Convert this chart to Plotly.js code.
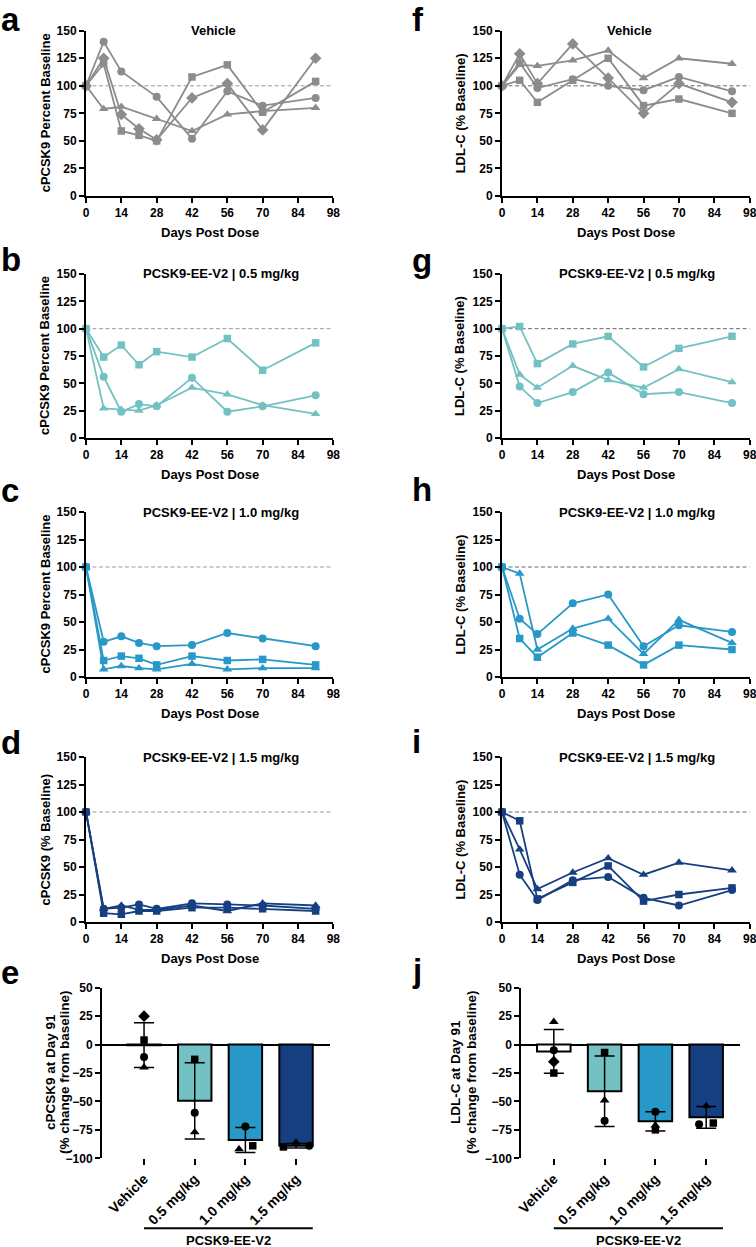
<!DOCTYPE html>
<html>
<head>
<meta charset="utf-8">
<script src="https://cdn.plot.ly/plotly-3.0.1.min.js"></script>
<style>
  html, body { margin: 0; padding: 0; background: #fff; }
  #fig { width: 756px; height: 1247px; }
</style>
</head>
<body>
<div id="fig"></div>
<script>
/* ── Data ── */
var DAYS_PCSK9 = [0, 7, 14, 21, 28, 42, 56, 70, 91];
var DAYS_LDL   = [0, 7, 14, 28, 42, 56, 70, 91];
var DAY_TICKS  = [0, 14, 28, 42, 56, 70, 84, 98];
var PCT_TICKS  = [0, 25, 50, 75, 100, 125, 150];
var BASELINE   = 100;

/* cPCSK9, % of baseline */
var PCSK9_VEH_CIRCLE   = [100, 140, 113, null, 90, 52, 95, 82, 89];
var PCSK9_VEH_SQUARE   = [100, 120, 59, 55, 50, 108, 119, 76, 104];
var PCSK9_VEH_DIAMOND  = [100, 125, 74, 61, 51, 89, 102, 60, 125];
var PCSK9_VEH_TRIANGLE = [100, 79, 81, null, 70, 59, 74, 77, 80];

var PCSK9_05_SQUARE   = [100, 74, 85, 67, 79, 74, 91, 62, 87];
var PCSK9_05_CIRCLE   = [100, 56, 24, 31, 29, 55, 24, 29, 39];
var PCSK9_05_TRIANGLE = [100, 27, 26, 25, 30, 46, 40, 30, 22];

var PCSK9_10_CIRCLE   = [100, 32, 37, 31, 28, 29, 40, 35, 28];
var PCSK9_10_SQUARE   = [100, 15, 19, 17, 11, 19, 15, 16, 11];
var PCSK9_10_TRIANGLE = [100, 7, 10, 8, 7, 12, 7, 8, 8];

var PCSK9_15_CIRCLE   = [100, 12, 13, 16, 12, 17, 16, 15, 12];
var PCSK9_15_TRIANGLE = [100, 12, 15, 11, 11, 15, 10, 17, 15];
var PCSK9_15_SQUARE   = [100, 8, 7, 10, 10, 13, 13, 12, 10];

/* LDL-C, % of baseline */
var LDL_VEH_TRIANGLE = [100, 119, 118, 123, 132, 107, 125, 120];
var LDL_VEH_DIAMOND  = [100, 129, 102, 138, 107, 75, 102, 85];
var LDL_VEH_CIRCLE   = [100, 121, 98, 106, 100, 96, 108, 95];
var LDL_VEH_SQUARE   = [100, 105, 85, 105, 125, 82, 88, 75];

var LDL_05_SQUARE   = [100, 102, 68, 86, 93, 65, 82, 93];
var LDL_05_TRIANGLE = [100, 58, 46, 66, 53, 46, 63, 51];
var LDL_05_CIRCLE   = [100, 47, 32, 42, 60, 40, 42, 32];

var LDL_10_CIRCLE   = [100, 53, 39, 67, 75, 28, 47, 41];
var LDL_10_TRIANGLE = [100, 94, 25, 44, 53, 21, 52, 31];
var LDL_10_SQUARE   = [100, 35, 18, 40, 29, 11, 29, 25];

var LDL_15_SQUARE   = [100, 92, 21, 36, 51, 19, 25, 31];
var LDL_15_TRIANGLE = [100, 66, 30, 45, 58, 43, 54, 47];
var LDL_15_CIRCLE   = [100, 43, 20, 38, 41, 22, 15, 29];

/* Day 91, % change from baseline */
var GROUPS       = ['Vehicle', '0.5 mg/kg', '1.0 mg/kg', '1.5 mg/kg'];
var CHANGE_TICKS = [-100, -75, -50, -25, 0, 25, 50];

var PCSK9_D91_MEAN     = [-0.5, -49.5, -84, -89];
var PCSK9_D91_SD       = [19.6, 33.5, 11, 2];
var PCSK9_D91_CIRCLE   = [-11, -60, -72, -89];
var PCSK9_D91_SQUARE   = [4, -13, -89, -90];
var PCSK9_D91_TRIANGLE = [-20, -77, -92, -86];
var PCSK9_D91_DIAMOND  = [25, null, null, null];

var LDL_D91_MEAN     = [-6, -41, -67.5, -64];
var LDL_D91_SD       = [19.2, 31, 8.5, 9.5];
var LDL_D91_CIRCLE   = [-5, -67, -59, -70];
var LDL_D91_SQUARE   = [-25, -7, -75, -69];
var LDL_D91_TRIANGLE = [20, -49, -71, -54];
var LDL_D91_DIAMOND  = [-15, null, null, null];

(function () {
  'use strict';

  /* ── Page geometry helpers (px -> paper) ── */
  var W = 756, H = 1247;
  function px(x) { return x / W; }
  function py(y) { return 1 - y / H; }

  var FONT = '"Liberation Sans", Arial, Helvetica, sans-serif';

  /* ── Colour palette ── */
  var C = {
    veh:   '#8C8C8C',
    low:   '#74C1C3',
    mid:   '#2898C8',
    high:  '#163F82',
    ink:   '#000000',
    dashA: '#9C9C9C',
    dashB: '#6A6A6A',
  };

  var SYM   = { circle: 'circle', square: 'square', triangle: 'triangle-up', diamond: 'diamond' };
  var MSIZE = { circle: 8, square: 7.5, triangle: 8.5, diamond: 9 };

  /* ── Panel frames ── */
  var COL = { L: [86, 333.3], R: [502, 749.7] };
  var ROW = [[30.7, 196], [274, 438], [512, 677], [757, 922]];
  var BAR_ROW = [987.7, 1158.3];

  var TIME = [
    { n: 1, letter: 'a', col: 'L', row: 0, base: 26,  title: 'Vehicle', tx: 50.5,
      ytitle: 'cPCSK9 Percent Baseline', days: DAYS_PCSK9, color: C.veh, dash: C.dashA,
      series: [['circle', PCSK9_VEH_CIRCLE], ['square', PCSK9_VEH_SQUARE],
               ['diamond', PCSK9_VEH_DIAMOND], ['triangle', PCSK9_VEH_TRIANGLE]] },
    { n: 2, letter: 'b', col: 'L', row: 1, base: 270, title: 'PCSK9-EE-V2 | 0.5 mg/kg', tx: 53.5,
      ytitle: 'cPCSK9 Percent Baseline', days: DAYS_PCSK9, color: C.low, dash: C.dashA,
      series: [['square', PCSK9_05_SQUARE], ['circle', PCSK9_05_CIRCLE], ['triangle', PCSK9_05_TRIANGLE]] },
    { n: 3, letter: 'c', col: 'L', row: 2, base: 501, title: 'PCSK9-EE-V2 | 1.0 mg/kg', tx: 53.5,
      ytitle: 'cPCSK9 Percent Baseline', days: DAYS_PCSK9, color: C.mid, dash: C.dashA,
      series: [['circle', PCSK9_10_CIRCLE], ['square', PCSK9_10_SQUARE], ['triangle', PCSK9_10_TRIANGLE]] },
    { n: 4, letter: 'd', col: 'L', row: 3, base: 753, title: 'PCSK9-EE-V2 | 1.5 mg/kg', tx: 53.5,
      ytitle: 'cPCSK9 (% Baseline)', days: DAYS_PCSK9, color: C.high, dash: C.dashA,
      series: [['circle', PCSK9_15_CIRCLE], ['triangle', PCSK9_15_TRIANGLE], ['square', PCSK9_15_SQUARE]] },
    { n: 6, letter: 'f', col: 'R', row: 0, base: 26,  title: 'Vehicle', tx: 50.5,
      ytitle: 'LDL-C (% Baseline)', days: DAYS_LDL, color: C.veh, dash: C.dashB,
      series: [['triangle', LDL_VEH_TRIANGLE], ['diamond', LDL_VEH_DIAMOND],
               ['circle', LDL_VEH_CIRCLE], ['square', LDL_VEH_SQUARE]] },
    { n: 7, letter: 'g', col: 'R', row: 1, base: 271, title: 'PCSK9-EE-V2 | 0.5 mg/kg', tx: 53.5,
      ytitle: 'LDL-C (% Baseline)', days: DAYS_LDL, color: C.low, dash: C.dashB,
      series: [['square', LDL_05_SQUARE], ['triangle', LDL_05_TRIANGLE], ['circle', LDL_05_CIRCLE]] },
    { n: 8, letter: 'h', col: 'R', row: 2, base: 500, title: 'PCSK9-EE-V2 | 1.0 mg/kg', tx: 53.5,
      ytitle: 'LDL-C (% Baseline)', days: DAYS_LDL, color: C.mid, dash: C.dashB,
      series: [['circle', LDL_10_CIRCLE], ['triangle', LDL_10_TRIANGLE], ['square', LDL_10_SQUARE]] },
    { n: 9, letter: 'i', col: 'R', row: 3, base: 752, title: 'PCSK9-EE-V2 | 1.5 mg/kg', tx: 53.5,
      ytitle: 'LDL-C (% Baseline)', days: DAYS_LDL, color: C.high, dash: C.dashB,
      series: [['square', LDL_15_SQUARE], ['triangle', LDL_15_TRIANGLE], ['circle', LDL_15_CIRCLE]] },
  ];

  /* small horizontal nudges GraphPad applied to overlapping dots */
  var BARS = [
    { n: 5, letter: 'e', x: [102, 330], range: [-0.83, 3.67], base: 983, ytx: [50, 64],
      yt: ['cPCSK9 at Day 91', '(% change from baseline)'],
      mean: PCSK9_D91_MEAN, sd: PCSK9_D91_SD,
      dots: [['circle', PCSK9_D91_CIRCLE, [0, 0, 0, 0.26]],
             ['square', PCSK9_D91_SQUARE, [0, 0, 0.145, -0.25]],
             ['triangle', PCSK9_D91_TRIANGLE, [0, 0, -0.125, 0]],
             ['diamond', PCSK9_D91_DIAMOND, [0, 0, 0, 0]]] },
    { n: 10, letter: 'j', x: [521.3, 739.7], range: [-0.64, 3.66], base: 981, ytx: [455, 471],
      yt: ['LDL-C at Day 91', '(% change from baseline)'],
      mean: LDL_D91_MEAN, sd: LDL_D91_SD,
      dots: [['circle', LDL_D91_CIRCLE, [0, 0, 0, -0.14]],
             ['square', LDL_D91_SQUARE, [0, 0, 0, 0.14]],
             ['triangle', LDL_D91_TRIANGLE, [0, 0, 0, 0]],
             ['diamond', LDL_D91_DIAMOND, [0, 0, 0, 0]]] },
  ];

  function axId(n, k)  { return n === 1 ? k : k + n; }
  function axKey(n, k) { return n === 1 ? k + 'axis' : k + 'axis' + n; }

  function tickFont(size) { return { family: FONT, size: size || 12, color: C.ink, weight: 700 }; }

  var baseAxis = {
    showline: true, linewidth: 2, linecolor: C.ink,
    ticks: 'outside', ticklen: 5, tickwidth: 2, tickcolor: C.ink,
    showgrid: false, zeroline: false, fixedrange: true,
    ticklabeloverflow: 'allow',
    tickfont: tickFont(12),
  };
  function axis(extra) { return Object.assign({}, baseAxis, extra); }

  var traces = [], shapes = [], ann = [];
  var layout = {
    width: W, height: H,
    margin: { l: 0, r: 0, t: 0, b: 0 },
    paper_bgcolor: '#ffffff', plot_bgcolor: 'rgba(0,0,0,0)',
    showlegend: false,
    font: { family: FONT, color: C.ink },
  };

  function label(text, x, y, opts) {
    ann.push(Object.assign({
      text: text, x: x, y: y, xref: 'paper', yref: 'paper',
      showarrow: false, xanchor: 'center', yanchor: 'middle',
      font: { family: FONT, size: 13, color: C.ink, weight: 700 },
    }, opts || {}));
  }

  /* panel letter: top-anchored so the first row stays on the page */
  function letter(ch, leftPx, basePx) {
    label(ch, px(leftPx), py(Math.max(0, basePx - 30)), {
      xanchor: 'left', yanchor: 'top', borderpad: 0,
      font: { family: FONT, size: 33, color: C.ink, weight: 700 },
    });
  }

  /* ── Time-course panels ── */
  TIME.forEach(function (p) {
    var xs = COL[p.col], ys = ROW[p.row];
    var xa = axId(p.n, 'x'), ya = axId(p.n, 'y');

    layout[axKey(p.n, 'x')] = axis({
      domain: [px(xs[0]), px(xs[1])], anchor: ya,
      range: [DAY_TICKS[0], DAY_TICKS[DAY_TICKS.length - 1]],
      tickmode: 'array', tickvals: DAY_TICKS,
    });
    layout[axKey(p.n, 'y')] = axis({
      domain: [py(ys[1]), py(ys[0])], anchor: xa,
      range: [PCT_TICKS[0], PCT_TICKS[PCT_TICKS.length - 1]],
      tickmode: 'array', tickvals: PCT_TICKS,
    });

    shapes.push({
      type: 'line', xref: xa, yref: ya, layer: 'below',
      x0: DAY_TICKS[0], x1: DAY_TICKS[DAY_TICKS.length - 1], y0: BASELINE, y1: BASELINE,
      line: { color: p.dash, width: 1, dash: '4px,2.5px' },
    });

    p.series.forEach(function (s) {
      traces.push({
        type: 'scatter', mode: 'lines+markers',
        x: p.days, y: s[1], xaxis: xa, yaxis: ya,
        connectgaps: true, cliponaxis: false,
        line: { color: p.color, width: 1.8 },
        marker: { symbol: SYM[s[0]], size: MSIZE[s[0]], color: p.color },
        hoverinfo: 'skip', showlegend: false,
      });
    });

    /* panel title sits on the 150 line */
    ann.push({
      text: p.title, x: p.tx, y: PCT_TICKS[PCT_TICKS.length - 1], xref: xa, yref: ya,
      showarrow: false, xanchor: 'center', yanchor: 'middle',
      font: { family: FONT, size: 13, color: C.ink, weight: 700 },
    });

    label('Days Post Dose', px((xs[0] + xs[1]) / 2), py(ys[1] + 36));
    label(p.ytitle, px(p.col === 'L' ? 45 : 460), py((ys[0] + ys[1]) / 2), { textangle: -90 });
    letter(p.letter, p.col === 'L' ? 0 : 411, p.base);
  });

  /* ── Day-91 bar panels ── */
  BARS.forEach(function (p) {
    var xa = axId(p.n, 'x'), ya = axId(p.n, 'y');
    var cats = GROUPS.map(function (g, i) { return i; });

    layout[axKey(p.n, 'x')] = axis({
      domain: [px(p.x[0]), px(p.x[1])], anchor: ya,
      range: p.range, showline: false, ticklen: 6,
      tickmode: 'array', tickvals: cats, ticktext: GROUPS, tickangle: -45,
      tickfont: tickFont(14),
    });
    layout[axKey(p.n, 'y')] = axis({
      domain: [py(BAR_ROW[1]), py(BAR_ROW[0])], anchor: xa,
      range: [CHANGE_TICKS[0], CHANGE_TICKS[CHANGE_TICKS.length - 1]],
      tickmode: 'array', tickvals: CHANGE_TICKS,
      zeroline: true, zerolinecolor: C.ink, zerolinewidth: 2,
    });

    traces.push({
      type: 'bar', x: cats, y: p.mean, xaxis: xa, yaxis: ya, width: 0.66,
      marker: { color: ['#ffffff', C.low, C.mid, C.high], line: { color: C.ink, width: 2 } },
      error_y: { type: 'data', array: p.sd, visible: true, color: C.ink, thickness: 1.5, width: 10 },
      hoverinfo: 'skip', showlegend: false,
    });

    p.dots.forEach(function (d) {
      traces.push({
        type: 'scatter', mode: 'markers',
        x: cats.map(function (c, i) { return c + d[2][i]; }), y: d[1],
        xaxis: xa, yaxis: ya, cliponaxis: false,
        marker: { symbol: SYM[d[0]], size: MSIZE[d[0]], color: C.ink },
        hoverinfo: 'skip', showlegend: false,
      });
    });

    /* treatment bracket under the dose labels */
    shapes.push({
      type: 'line', xref: xa, yref: 'paper',
      x0: 0, x1: 3.33, y0: py(1228.3), y1: py(1228.3),
      line: { color: C.ink, width: 2 },
    });
    ann.push({
      text: 'PCSK9-EE-V2', x: 3.33 / 2, y: py(1240), xref: xa, yref: 'paper',
      showarrow: false, xanchor: 'center', yanchor: 'middle',
      font: { family: FONT, size: 13, color: C.ink, weight: 700 },
    });

    var cy = py(1072);
    label(p.yt[0], px(p.ytx[0]), cy, { textangle: -90, font: { family: FONT, size: 13.5, color: C.ink, weight: 700 } });
    label(p.yt[1], px(p.ytx[1]), cy, { textangle: -90, font: { family: FONT, size: 13.5, color: C.ink, weight: 700 } });
    letter(p.letter, p.n === 5 ? 0 : 411, p.base);
  });

  layout.shapes = shapes;
  layout.annotations = ann;

  Plotly.newPlot('fig', traces, layout, { displayModeBar: false, staticPlot: true });
})();
</script>
</body>
</html>
